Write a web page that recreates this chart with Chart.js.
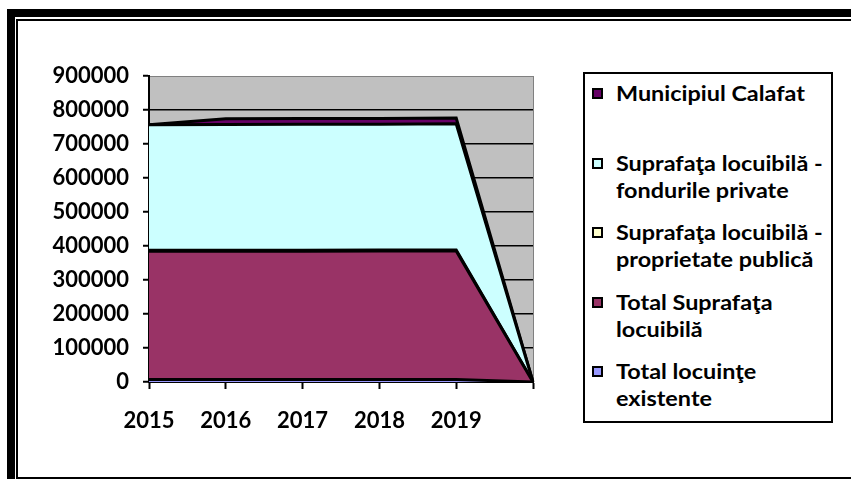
<!DOCTYPE html>
<html>
<head>
<meta charset="utf-8">
<script src="https://cdn.jsdelivr.net/npm/chart.js@4.4.1/dist/chart.umd.min.js"></script>
<style>
  html, body { margin: 0; padding: 0; background: #fff; width: 851px; height: 479px; overflow: hidden; }
  #frameOuter { position: absolute; left: 7px; top: 9px; width: 900px; height: 520px; border-left: 8px solid #000; border-top: 8px solid #000; }
  #frameInner { position: absolute; left: 16px; top: 19px; width: 900px; height: 460px; box-sizing: border-box; border: 2px solid #000; border-right: none; }
  #chart { position: absolute; left: 0; top: 0; }
  #legend { position: absolute; left: 583px; top: 72px; width: 250px; height: 351px; box-sizing: border-box; border: 2px solid #000; background: #fff; font-family: Lato, sans-serif; font-weight: bold; font-size: 20px; color: #000; }
  .item { position: absolute; left: 7px; width: 236px; }
  .swatch { position: absolute; left: 0; top: 8px; width: 11px; height: 11px; box-sizing: border-box; border: 2px solid #000; }
  /* the original text is a little wider than Lato, stretch it to match */
  .text { position: absolute; left: 24px; top: 0; width: 185px; line-height: 27px; transform: scaleX(1.17); transform-origin: left top; }
</style>
</head>
<body>
<div id="frameOuter"></div>
<div id="frameInner"></div>
<canvas id="chart" width="851" height="479"></canvas>
<div id="legend"></div>
<script>
// categories (last one is the empty drop-off point)
const years = ['2015', '2016', '2017', '2018', '2019', ''];

// series, bottom of the stack first
const totalLocuinte = [7300, 7350, 7400, 7450, 7500, 0];
const totalSuprafata = [377000, 377200, 377400, 377600, 378000, 0];
const suprafataPublica = [3000, 3000, 3000, 3000, 3000, 0];
const suprafataPrivata = [369500, 370000, 370200, 370400, 371000, 0];
const municipiulCalafat = [0, 17000, 16900, 16800, 16700, 0];

const seriesNames = [
    'Total locuinţe existente',
    'Total Suprafaţa locuibilă',
    'Suprafaţa locuibilă - proprietate publică',
    'Suprafaţa locuibilă - fondurile private',
    'Municipiul Calafat'
];
const seriesValues = [totalLocuinte, totalSuprafata, suprafataPublica, suprafataPrivata, municipiulCalafat];
const seriesColors = ['#9999ff', '#993366', '#ffffcc', '#ccffff', '#660066'];

const yTicks = [0, 100000, 200000, 300000, 400000, 500000, 600000, 700000, 800000, 900000];

const tickFont = { family: 'Lato', weight: 'bold', size: 22 };

// grey plot area with the darker edges
const plotBackground = {
    id: 'plotBackground',
    beforeDraw(chart) {
        const { ctx, chartArea: a } = chart;
        ctx.save();
        ctx.fillStyle = '#c0c0c0';
        ctx.fillRect(a.left, a.top, a.right - a.left, a.bottom - a.top);
        ctx.strokeStyle = '#808080';
        ctx.lineWidth = 1;
        ctx.beginPath();
        ctx.moveTo(a.right + 0.5, a.top);
        ctx.lineTo(a.right + 0.5, a.bottom);
        ctx.moveTo(a.left, a.top + 0.5);
        ctx.lineTo(a.right, a.top + 0.5);
        ctx.stroke();
        ctx.restore();
    }
};

const chart = new Chart(document.getElementById('chart'), {
    type: 'line',
    data: {
        labels: years,
        datasets: seriesNames.map((name, i) => ({
            label: name,
            data: seriesValues[i],
            backgroundColor: seriesColors[i],
            borderColor: '#000',
            borderWidth: 3,
            pointRadius: 0,
            tension: 0,
            fill: i === 0 ? 'origin' : '-1'
        }))
    },
    options: {
        responsive: false,
        animation: false,
        layout: { padding: { left: 0, top: 76, right: 318, bottom: 47 } },
        plugins: {
            legend: { display: false },
            tooltip: { enabled: false }
        },
        scales: {
            x: {
                offset: false,
                grid: { drawOnChartArea: false, tickLength: 7, tickColor: '#000', tickWidth: 2 },
                border: { color: '#000', width: 2 },
                ticks: { color: '#000', font: tickFont, padding: 19, autoSkip: false, maxRotation: 0 },
                afterFit(scale) { scale.height = 50; }
            },
            y: {
                stacked: true,
                min: 0,
                max: 900000,
                afterBuildTicks(scale) { scale.ticks = yTicks.map(v => ({ value: v })); },
                grid: {
                    color: c => (c.tick && c.tick.value === 900000) ? 'rgba(0,0,0,0)' : '#000',
                    lineWidth: 1.5,
                    tickLength: 6,
                    tickColor: '#000',
                    tickWidth: 2
                },
                border: { color: '#000', width: 2 },
                ticks: { color: '#000', font: tickFont, padding: 14, callback: v => String(v) },
                afterFit(scale) { scale.width = 149; }
            }
        }
    },
    plugins: [plotBackground]
});

// legend box, top series first like the original
const legendEl = document.getElementById('legend');
chart.data.datasets.slice().reverse().forEach((ds, i) => {
    const item = document.createElement('div');
    item.className = 'item';
    item.style.top = (6 + i * 69.5) + 'px';
    const swatch = document.createElement('span');
    swatch.className = 'swatch';
    swatch.style.background = ds.backgroundColor;
    const text = document.createElement('span');
    text.className = 'text';
    text.textContent = ds.label;
    item.appendChild(swatch);
    item.appendChild(text);
    legendEl.appendChild(item);
});
</script>
</body>
</html>
